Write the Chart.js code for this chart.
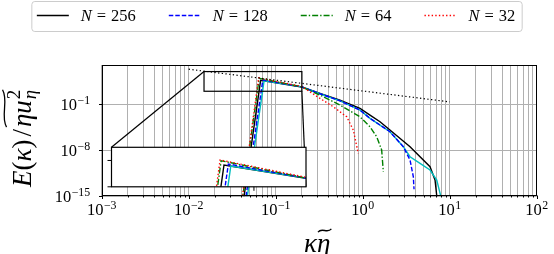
<!DOCTYPE html>
<html><head><meta charset="utf-8">
<script src="https://cdn.jsdelivr.net/npm/chart.js@4.4.1/dist/chart.umd.min.js"></script>
<style>
html,body{margin:0;padding:0;background:#fff;}
#wrap{position:relative;width:554px;height:254px;overflow:hidden;}
#main{position:absolute;left:0;top:0;}
#inset{position:absolute;left:104px;top:145px;}
</style></head>
<body><div id="wrap"><canvas id="main" width="554" height="254"></canvas><canvas id="inset" width="205" height="49"></canvas></div>
<script>
// ---------------- data ----------------
const kappa256 = [0.0422,0.0433,0.0671,0.2,0.323,0.548,0.931,1.213,1.581,2.056,3.50,5.94,6.78,7.10,7.28];
const E256     = [1e-16,1e-15,457,44.7,4.72,0.451,0.0246,2.34e-3,2.24e-4,1.23e-5,3.55e-8,3.16e-11,3.02e-13,1.10e-15,1e-17];
const kappa256c = [0.0460,0.0472,0.0735,0.2,0.323,0.548,0.931,1.213,1.581,2.056,2.93,3.50,4.56,5.94,7.10,7.89,8.05];
const E256c     = [1e-16,1e-15,380,45.7,4.17,0.355,0.0135,7.4e-4,7.1e-5,6.8e-6,3.55e-8,1.07e-9,1.05e-10,1e-11,3.02e-13,1.10e-15,1e-17];
const kappa128 = [0.0445,0.0456,0.0711,0.2,0.323,0.548,0.931,1.213,1.581,2.056,2.93,3.50,3.82,3.89];
const E128     = [1e-16,1e-15,537,45.7,4.17,0.355,0.0135,7.4e-4,7.1e-5,6.8e-6,3.55e-8,3.3e-10,9.5e-13,1.15e-14];
const kappa64 = [0.0407,0.0418,0.0646,0.2,0.323,0.548,0.931,1.213,1.449,1.652,1.726];
const E64     = [1e-16,1e-15,955,45.7,2.6,0.078,1.29e-3,3.9e-5,1.17e-6,1.12e-8,5.5e-12];
const kappa32 = [0.0406,0.0415,0.0637,0.2,0.323,0.459,0.655,0.780,0.889];
const E32     = [1e-16,1e-15,1084,52.5,0.818,0.0432,1.29e-3,1.23e-5,3.5e-9];
const kappaRef = [0.01, 10];
const ERef     = [2.3e4, 0.24];

const legendNs = ['256','128','64','32'];
const xMajor = [1e-3,1e-2,1e-1,1,10,100];
const xMajorExp = ['\u22123','\u22122','\u22121','0','1','2'];
const yMajor = [1e-15,1e-8,1e-1];
const yMajorExp = ['\u221215','\u22128','\u22121'];
const insetXRange = [0.015, 0.2];
const insetYRange = [10, 1e4];
const insetXTicks = [0.1];
const insetYTicks = [10, 1000];

// ---------------- styles ----------------
const FONT = "'Liberation Serif','DejaVu Serif',serif";
const series = [
  {k:kappa256,  e:E256,  color:'#000000', dash:[],            width:1.4, order:6, legend:0,  inset:true},
  {k:kappa256c, e:E256c, color:'#00bfbf', dash:[],            width:1.4, order:5, legend:-1, inset:true},
  {k:kappa128,  e:E128,  color:'#0000ff', dash:[4.5,2],       width:1.4, order:4, legend:1,  inset:true},
  {k:kappa64,   e:E64,   color:'#008000', dash:[6,2,1.4,2],   width:1.4, order:3, legend:2,  inset:true},
  {k:kappa32,   e:E32,   color:'#ff0000', dash:[1.4,2.2],     width:1.4, order:2, legend:3,  inset:true},
  {k:kappaRef,  e:ERef,  color:'#000000', dash:[1.3,2.4],     width:1.2, order:1, legend:-1, inset:false}
];
function makeDatasets(forInset){
  return series.filter(s => !forInset || s.inset).map(s => ({
    data: s.k.map((k,i)=>({x:k, y:s.e[i]})),
    borderColor: s.color, borderWidth: s.width, borderDash: s.dash,
    pointRadius: 0, fill:false, tension:0, order: s.order, clip: 0
  }));
}
const xGrid = [];
for (let e=-3; e<=1; e++) for (let m=1; m<=9; m++) xGrid.push(m*Math.pow(10,e));
xGrid.push(100);

function supLabel(ctx, base, exp, x, y, align, size){
  const ss = size*0.72;
  ctx.font = size+'px '+FONT; const wb = ctx.measureText(base).width;
  ctx.font = ss+'px '+FONT; const we = ctx.measureText(exp).width;
  const tot = wb + 0.5 + we;
  let x0 = align==='center' ? x - tot/2 : (align==='right' ? x - tot : x);
  ctx.textAlign='left'; ctx.textBaseline='alphabetic';
  ctx.font = size+'px '+FONT; ctx.fillText(base, x0, y);
  ctx.font = ss+'px '+FONT; ctx.fillText(exp, x0+wb+0.5, y - size*0.36);
}
function tilde(ctx, x0, x1, yc, a, lw){
  const w = x1-x0;
  ctx.beginPath();
  ctx.moveTo(x0, yc + a);
  ctx.bezierCurveTo(x0 + w*0.3, yc - 2.2*a, x0 + w*0.7, yc + 2.2*a, x1, yc - a);
  ctx.lineWidth = lw; ctx.strokeStyle = '#000'; ctx.stroke();
}

// ---------------- inset chart ----------------
const insetDecor = {
  id:'insetDecor',
  beforeDraw(chart){
    const {ctx, chartArea:ca} = chart;
    ctx.save(); ctx.fillStyle='#fff';
    ctx.fillRect(ca.left, ca.top, ca.right-ca.left, ca.bottom-ca.top);
    ctx.restore();
  },
  afterDraw(chart){
    const {ctx, chartArea:ca} = chart;
    const xs = chart.scales.x, ys = chart.scales.y;
    ctx.save();
    ctx.strokeStyle='#000'; ctx.lineWidth=1.2;
    ctx.strokeRect(ca.left, ca.top, ca.right-ca.left, ca.bottom-ca.top);
    ctx.lineWidth=1;
    insetXTicks.forEach(v=>{ const p=xs.getPixelForValue(v);
      ctx.beginPath(); ctx.moveTo(p, ca.bottom); ctx.lineTo(p, ca.bottom+4); ctx.stroke(); });
    insetYTicks.forEach(v=>{ const p=ys.getPixelForValue(v);
      ctx.beginPath(); ctx.moveTo(ca.left, p); ctx.lineTo(ca.left-4, p); ctx.stroke(); });
    ctx.restore();
  }
};
const insetCanvas = document.getElementById('inset');
const insetOffset = {x:104, y:145};
const insetChart = new Chart(insetCanvas, {
  type:'line',
  data:{datasets: makeDatasets(true)},
  options:{
    responsive:false, animation:false, devicePixelRatio:1,
    layout:{padding:{left:7.5, top:2.3, right:3, bottom:7.2}},
    plugins:{legend:{display:false}, tooltip:{enabled:false}},
    scales:{
      x:{type:'logarithmic', min:insetXRange[0], max:insetXRange[1], grid:{display:false, drawTicks:false}, border:{display:false}, ticks:{display:false}},
      y:{type:'logarithmic', min:insetYRange[0], max:insetYRange[1], grid:{display:false, drawTicks:false}, border:{display:false}, ticks:{display:false}}
    }
  },
  plugins:[insetDecor]
});

// ---------------- main chart ----------------
const mainDecor = {
  id:'mainDecor',
  afterDraw(chart){
    const {ctx, chartArea:ca} = chart;
    const xs = chart.scales.x, ys = chart.scales.y;
    ctx.save();
    // zoom rectangle + connectors
    const sx0 = xs.getPixelForValue(insetXRange[0]), sx1 = xs.getPixelForValue(insetXRange[1]);
    const sy0 = ys.getPixelForValue(insetYRange[1]), sy1 = ys.getPixelForValue(insetYRange[0]);
    ctx.strokeStyle='#000'; ctx.lineWidth=1.2;
    ctx.strokeRect(sx0, sy0, sx1-sx0, sy1-sy0);
    const ia = insetChart.chartArea;
    ctx.beginPath(); ctx.moveTo(sx0, sy0); ctx.lineTo(insetOffset.x+ia.left, insetOffset.y+ia.top); ctx.stroke();
    ctx.beginPath(); ctx.moveTo(sx1, sy1); ctx.lineTo(insetOffset.x+ia.right, insetOffset.y+ia.bottom); ctx.stroke();
    // frame
    ctx.lineWidth=1;
    const L=Math.round(ca.left)+0.5, R=Math.round(ca.right)-0.5, T=Math.round(ca.top)+0.5, B=Math.round(ca.bottom)-0.5;
    ctx.strokeRect(L, T, R-L, B-T);
    // ticks
    xGrid.forEach(v=>{ const p=Math.round(xs.getPixelForValue(v))+0.5;
      const major = xMajor.some(m=>Math.abs(m-v)/m<1e-9);
      ctx.beginPath(); ctx.moveTo(p, B); ctx.lineTo(p, B+(major?3.5:2)); ctx.stroke(); });
    yMajor.forEach(v=>{ const p=Math.round(ys.getPixelForValue(v))+0.5;
      ctx.beginPath(); ctx.moveTo(L, p); ctx.lineTo(L-3.5, p); ctx.stroke(); });
    // tick labels
    ctx.fillStyle='#000';
    xMajor.forEach((v,i)=>supLabel(ctx,'10',xMajorExp[i], xs.getPixelForValue(v), ca.bottom+18.7, 'center', 16.5));
    yMajor.forEach((v,i)=>supLabel(ctx,'10',yMajorExp[i], ca.left-11.5, ys.getPixelForValue(v)+5.5, 'right', 16.5));
    // x title: kappa eta-tilde
    const fs = 27;
    ctx.font = 'italic '+fs+'px '+FONT;
    const wk = ctx.measureText('\u03ba').width, we = ctx.measureText('\u03b7').width;
    const cx = (ca.left+ca.right)/2 - 2;
    const x0 = cx - (wk+we)/2, by = 252;
    ctx.textAlign='left'; ctx.textBaseline='alphabetic';
    ctx.fillText('\u03ba', x0, by); ctx.fillText('\u03b7', x0+wk, by);
    tilde(ctx, x0+wk+1, x0+wk+we+1, by-21.5, 1.6, 1.3);
    // y title
    ctx.save();
    ctx.translate(31, 187);
    ctx.rotate(-Math.PI/2);
    let x = 0;
    const seg = (t, it, size, dy) => {
      ctx.font = (it?'italic ':'')+size+'px '+FONT;
      ctx.fillText(t, x, dy||0);
      const w = ctx.measureText(t).width; x += w; return w;
    };
    seg('E', true, fs); seg('(', false, fs); seg('\u03ba', true, fs); seg(')', false, fs);
    x += 3; seg('/', false, fs); x += 2;
    const tStart = x;
    seg('\u03b7', true, fs); seg('u', true, fs);
    const xs0 = x + 1;
    ctx.font = (fs*0.7)+'px '+FONT; ctx.fillText('2', xs0, -fs*0.42);
    const w2 = ctx.measureText('2').width;
    ctx.font = 'italic '+(fs*0.7)+'px '+FONT; ctx.fillText('\u03b7', xs0, fs*0.2);
    const wsub = ctx.measureText('\u03b7').width;
    const tEnd = xs0 + Math.max(w2, wsub);
    tilde(ctx, tStart, tEnd, -fs*0.98, 2.0, 1.3);
    ctx.restore();
    // legend
    drawLegend(ctx, chart);
    ctx.restore();
  }
};
function drawLegend(ctx, chart){
  const fs = 16.5, lineLen = 32, gapLT = 12, gapItem = 33, padL = 5, padR = 7;
  const items = series.filter(s=>s.legend>=0).sort((a,b)=>a.legend-b.legend);
  ctx.font = 'italic '+fs+'px '+FONT; const wN = ctx.measureText('N').width;
  ctx.font = fs+'px '+FONT; const wEq = ctx.measureText('=').width;
  const sp = fs*0.3;
  const widths = items.map((s,i)=>{ ctx.font = fs+'px '+FONT; return wN + sp + wEq + sp + ctx.measureText(legendNs[i]).width; });
  let total = padL + padR;
  widths.forEach((w,i)=>{ total += lineLen + gapLT + w + (i<widths.length-1?gapItem:0); });
  const bx = (chart.width - total)/2, by = 1.5, bh = 30;
  ctx.save();
  ctx.beginPath();
  if (ctx.roundRect) ctx.roundRect(bx, by, total, bh, 3); else ctx.rect(bx, by, total, bh);
  ctx.fillStyle='rgba(255,255,255,0.8)'; ctx.fill();
  ctx.strokeStyle='#cccccc'; ctx.lineWidth=1; ctx.stroke();
  let x = bx + padL;
  const ly = 15.5, tb = 20.8;
  items.forEach((s,i)=>{
    ctx.beginPath(); ctx.setLineDash(s.dash); ctx.strokeStyle=s.color; ctx.lineWidth=s.width;
    ctx.moveTo(x, ly); ctx.lineTo(x+lineLen, ly); ctx.stroke(); ctx.setLineDash([]);
    x += lineLen + gapLT;
    ctx.fillStyle='#000'; ctx.textAlign='left'; ctx.textBaseline='alphabetic';
    ctx.font = 'italic '+fs+'px '+FONT; ctx.fillText('N', x, tb);
    ctx.font = fs+'px '+FONT; ctx.fillText('=', x+wN+sp, tb);
    ctx.fillText(legendNs[i], x+wN+sp+wEq+sp, tb);
    x += widths[i] + gapItem;
  });
  ctx.restore();
}
const mainChart = new Chart(document.getElementById('main'), {
  type:'line',
  data:{datasets: makeDatasets(false)},
  options:{
    responsive:false, animation:false, devicePixelRatio:1,
    layout:{padding:{left:101.7, right:17.3, top:65, bottom:57.7}},
    plugins:{legend:{display:false}, tooltip:{enabled:false}},
    scales:{
      x:{type:'logarithmic', min:1e-3, max:1e2,
         grid:{color:'#b0b0b0', lineWidth:1, drawTicks:false}, border:{display:false}, ticks:{display:false},
         afterBuildTicks: s => { s.ticks = xGrid.map(v=>({value:v})); }},
      y:{type:'logarithmic', min:1e-15, max:1e5,
         grid:{color:'#b0b0b0', lineWidth:1, drawTicks:false}, border:{display:false}, ticks:{display:false},
         afterBuildTicks: s => { s.ticks = yMajor.map(v=>({value:v})); }}
    }
  },
  plugins:[mainDecor]
});
</script>
</body></html>
